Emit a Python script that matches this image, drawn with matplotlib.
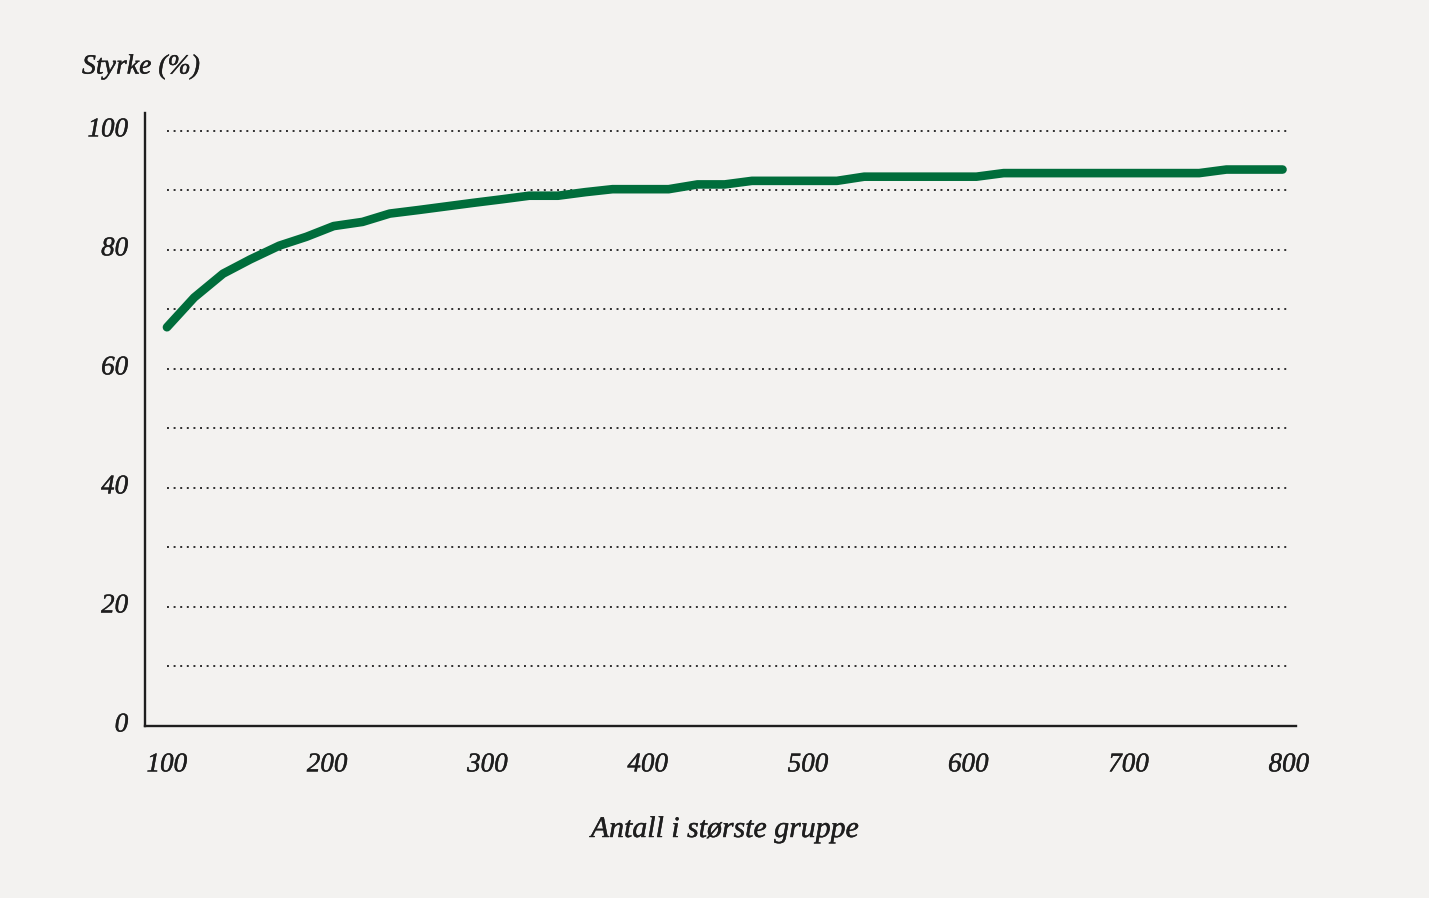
import matplotlib
matplotlib.use("Agg")
import matplotlib.pyplot as plt
import matplotlib.transforms as mtransforms
import matplotlib.patheffects as pe

# Data
group_size = [100, 117, 135, 152, 170, 187, 204, 222, 239, 257, 274, 291, 309, 326,
              344, 361, 378, 396, 413, 431, 448, 465, 483, 500, 518, 535, 552, 570,
              587, 605, 622, 639, 657, 674, 692, 709, 726, 744, 761, 779, 796]
power = [67.0, 72.0, 76.0, 78.4, 80.7, 82.2, 84.0, 84.7, 86.1, 86.7, 87.3, 87.9, 88.5, 89.1,
         89.1, 89.7, 90.2, 90.2, 90.2, 91.0, 91.0, 91.6, 91.6, 91.6, 91.6, 92.3, 92.3, 92.3,
         92.3, 92.3, 92.9, 92.9, 92.9, 92.9, 92.9, 92.9, 92.9, 92.9, 93.5, 93.5, 93.5]
x_ticks = [100, 200, 300, 400, 500, 600, 700, 800]
y_ticks = [0, 20, 40, 60, 80, 100]
grid_levels = [10, 20, 30, 40, 50, 60, 70, 80, 90, 100]
x_label = "Antall i største gruppe"
y_label = "Styrke (%)"

BG = "#f3f2f0"
GREEN = "#006d3b"
INK = "#1e1e1e"
FONT = dict(family="Liberation Serif", style="italic")
BOLDEN = [pe.withStroke(linewidth=0.3, foreground=INK)]

fig = plt.figure(figsize=(14.29, 8.98), dpi=100, facecolor=BG)
ax = fig.add_axes([145 / 1429, 1 - 726 / 898, (1296 - 145) / 1429, (726 - 113) / 898])
ax.set_facecolor(BG)

ax.set_xlim(86.3, 804.4)
ax.set_ylim(0, 103)

for lvl in grid_levels:
    ax.hlines(lvl, 100, 800, colors="#2e2e2e", linewidth=1.4,
              linestyles=(0, (1, 2.4)), zorder=1)

ax.plot(group_size, power, color=GREEN, linewidth=6.2, solid_capstyle="round",
        solid_joinstyle="round", zorder=3)

for s in ["top", "right"]:
    ax.spines[s].set_visible(False)
for s in ["left", "bottom"]:
    ax.spines[s].set_color(INK)
    ax.spines[s].set_linewidth(1.7)

ax.set_xticks(x_ticks)
ax.set_yticks(y_ticks)
ax.set_xticklabels([str(v) for v in x_ticks], fontsize=19.5, color=INK, **FONT)
ax.set_yticklabels([str(v) for v in y_ticks], fontsize=19.5, color=INK, **FONT)
ax.tick_params(axis="both", length=0)
ax.tick_params(axis="y", pad=12)
ax.tick_params(axis="x", pad=19)

shift = mtransforms.ScaledTranslation(0, 4 / 100, fig.dpi_scale_trans)
for lab in ax.get_yticklabels():
    lab.set_transform(lab.get_transform() + shift)
for lab in ax.get_xticklabels() + ax.get_yticklabels():
    lab.set_path_effects(BOLDEN)

fig.text(82 / 1429, 1 - 67 / 898, y_label, ha="left", va="center",
         fontsize=20, color=INK, path_effects=BOLDEN, **FONT)
fig.text(725 / 1429, 1 - 830 / 898, x_label, ha="center", va="center",
         fontsize=21.5, color=INK, path_effects=BOLDEN, **FONT)

fig.savefig("out.png", dpi=100, facecolor=BG)
